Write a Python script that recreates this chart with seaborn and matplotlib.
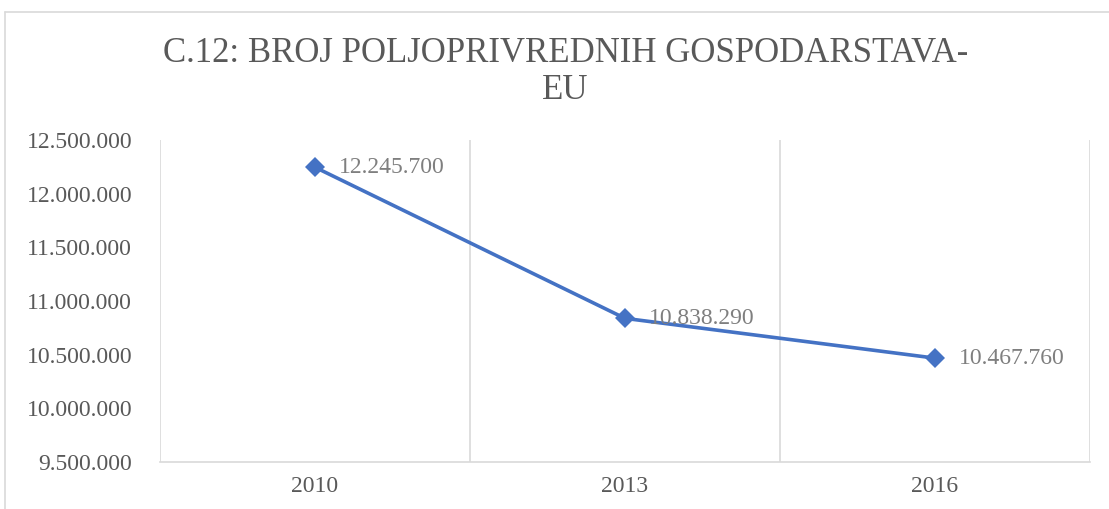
import numpy as np
import pandas as pd
import matplotlib
matplotlib.use('Agg')
import matplotlib.pyplot as plt
from matplotlib.lines import Line2D
from matplotlib.ticker import FuncFormatter, FixedLocator
import seaborn as sns

# data
years = ['2010', '2013', '2016']
farms = [12245700, 10838290, 10467760]
y_ticks = [9500000, 10000000, 10500000, 11000000, 11500000, 12000000, 12500000]

title = 'C.12: BROJ POLJOPRIVREDNIH GOSPODARSTAVA-\nEU'


def dotted(v, pos=None):
    ''' thousands separated by dots, like the Croatian Excel format '''
    return '{:,.0f}'.format(v).replace(',', '.')


sns.set_style('white')
plt.rcParams['font.family'] = ['Liberation Serif', 'DejaVu Serif']

df = pd.DataFrame({'year': years, 'farms': farms})

fig = plt.figure(figsize=(11.09, 5.09), dpi=100)
ax = fig.add_axes([0.1443, 0.0923, 0.8386, 0.6327])

sns.lineplot(data=df, x='year', y='farms', ax=ax, color='#4472C4',
             linewidth=2.6, marker='D', markersize=10, markeredgewidth=0,
             sort=False)

ax.set_ylim(y_ticks[0], y_ticks[-1])
ax.set_xlim(-0.5, len(years) - 0.5)
ax.set_yticks(y_ticks)
ax.yaxis.set_major_formatter(FuncFormatter(dotted))
ax.set_xlabel('')
ax.set_ylabel('')

# vertical separators between categories
ax.xaxis.set_minor_locator(FixedLocator(np.arange(-0.5, len(years), 1.0)))
ax.grid(False)
ax.grid(which='minor', axis='x', color='#d9d9d9', linewidth=1.2)
ax.tick_params(which='both', length=0)
ax.tick_params(axis='y', labelsize=17, labelcolor='#595959', pad=20)
ax.tick_params(axis='x', labelsize=17, labelcolor='#595959', pad=10)
ax.set_xticks(range(len(years)))
ax.set_xticklabels(years)

for s in ['top', 'right', 'left']:
    ax.spines[s].set_visible(False)
ax.spines['bottom'].set_color('#d9d9d9')
ax.spines['bottom'].set_linewidth(1.2)

# data labels to the right of each point
for i, v in enumerate(farms):
    ax.annotate(dotted(v), (i, v), xytext=(17, 0), textcoords='offset points',
                ha='left', va='center', fontsize=17, color='#7f7f7f')

fig.text(0.51, 0.858, title, ha='center', va='center', fontsize=25,
         color='#595959', linespacing=1.17)

# chart area border (only top and left fall inside the picture)
fig.add_artist(Line2D([5 / 1109, 1.0], [1 - 12 / 509] * 2,
                      transform=fig.transFigure, color='#d9d9d9', lw=1.2))
fig.add_artist(Line2D([5 / 1109] * 2, [0.0, 1 - 12 / 509],
                      transform=fig.transFigure, color='#d9d9d9', lw=1.2))

fig.savefig('out.png', dpi=100)
